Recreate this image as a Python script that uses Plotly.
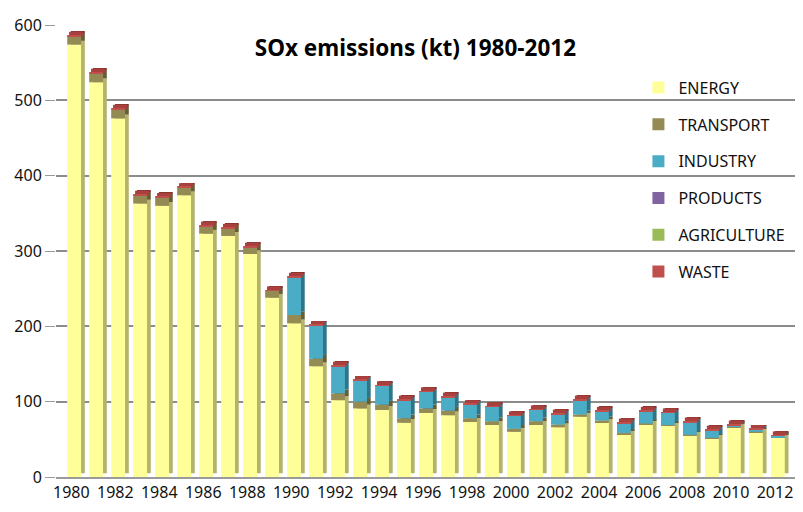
import plotly.graph_objects as go
import numpy as np

years = list(range(1980, 2013))
energy = [574, 524, 476, 363, 360, 374, 323, 320, 296, 238, 204, 147, 102, 91, 89, 72, 85, 82, 73, 69,
          60, 69, 66, 80, 73, 57, 70, 68, 55, 51, 66, 59, 52]
transport = [11, 12, 12, 11, 11, 10, 10, 10, 9, 9, 11, 10, 9, 9, 7, 6, 6, 6, 5, 5,
             4, 5, 3.5, 3, 2, 1.5, 1, 1, 1, 1, 1, 1, 0.5]
industry = [0, 0, 0, 0, 0, 0, 0, 0, 0, 0, 50, 44, 36, 28, 25, 24, 22, 18, 18, 19,
            17, 15, 14, 19, 12, 13, 16, 16, 17, 10, 2, 3, 2]
products = [0] * 33
agriculture = [0] * 33
waste = [1] * 33

series = [
    ("ENERGY", energy, "#FFFF99", "#B4B36C"),
    ("TRANSPORT", transport, "#948A54", "#665E37"),
    ("INDUSTRY", industry, "#4BACC6", "#2F7487"),
    ("PRODUCTS", products, "#8064A2", "#594570"),
    ("AGRICULTURE", agriculture, "#9BBB59", "#6B823D"),
    ("WASTE", waste, "#C0504D", "#8A3432"),
]

FRONT_OFF, FRONT_W = -0.185, 0.63
DX, DZ = 0.17, 5.0

fig = go.Figure()
cum = np.zeros(len(years))
bases = []
for name, vals, c, dc in series:
    bases.append(cum.copy())
    cum = cum + np.array(vals, dtype=float)
total = cum

# side/depth faces
for (name, vals, c, dc), b in zip(series, bases):
    fig.add_trace(go.Bar(x=years, y=vals, base=b + DZ, width=FRONT_W, offset=FRONT_OFF + DX,
                         marker=dict(color=dc, line=dict(width=0)), showlegend=False,
                         hoverinfo="skip"))
# top cap
fig.add_trace(go.Bar(x=years, y=[DZ] * len(years), base=total, width=FRONT_W, offset=FRONT_OFF + DX / 2,
                     marker=dict(color="#A8403D", line=dict(width=0)), showlegend=False,
                     hoverinfo="skip"))
# front faces
for (name, vals, c, dc), b in zip(series, bases):
    fig.add_trace(go.Bar(x=years, y=vals, base=b, width=FRONT_W, offset=FRONT_OFF, name=name,
                         legendgroup=name,
                         marker=dict(color=c, line=dict(width=0))))

fig.update_layout(
    width=795, height=504,
    barmode="overlay",
    paper_bgcolor="white", plot_bgcolor="white",
    margin=dict(l=38, r=6, t=12, b=35),
    font=dict(family="Noto Sans", size=16, color="#111111"),
    title=dict(text="<b>SOx emissions (kt) 1980-2012</b>", x=0.485, xref="paper", xanchor="center",
               y=1 - 40 / 504, yanchor="middle", font=dict(family="Noto Sans", size=22.5, color="#000")),
    legend=dict(x=0.786, y=0.899, xanchor="left", yanchor="top", traceorder="grouped",
                tracegroupgap=13, bgcolor="rgba(0,0,0,0)", font=dict(size=16, color="#111")),
    xaxis=dict(range=[1979.305, 2013.0], tickmode="array", tickvals=years[::2],
               ticktext=[str(y) for y in years[::2]], showgrid=False, showline=True,
               linecolor="#9A9A9A", linewidth=2, ticks="", tickfont=dict(size=16)),
    yaxis=dict(range=[0, 600], tickvals=[0, 100, 200, 300, 400, 500, 600], showgrid=True,
               gridcolor="#8C8C8C", gridwidth=1.5, zeroline=False, ticks="outside", ticklen=10,
               tickcolor="#9A9A9A", tickfont=dict(size=16), showline=False),
)

fig.write_html("out.html")
